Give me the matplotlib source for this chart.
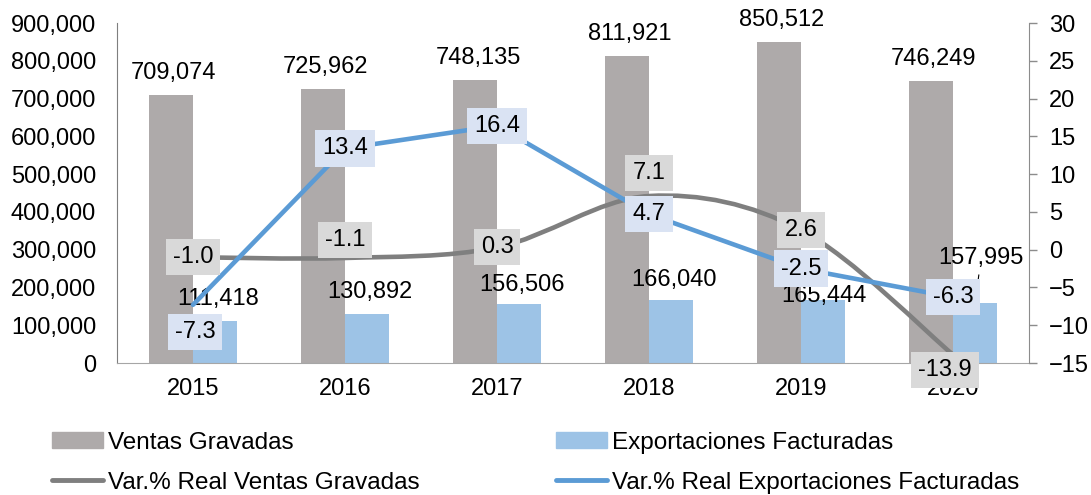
import numpy as np
import matplotlib.pyplot as plt
from matplotlib.path import Path
from matplotlib.patches import PathPatch, Patch
from matplotlib.lines import Line2D
from matplotlib.ticker import FuncFormatter

plt.rcParams['font.family'] = ['Liberation Sans', 'DejaVu Sans']
plt.rcParams['font.size'] = 17

years = ['2015', '2016', '2017', '2018', '2019', '2020']
ventas = [709074, 725962, 748135, 811921, 850512, 746249]
exportaciones = [111418, 130892, 156506, 166040, 165444, 157995]
var_ventas = [-1.0, -1.1, 0.3, 7.1, 2.6, -13.9]
var_export = [-7.3, 13.4, 16.4, 4.7, -2.5, -6.3]

c_bar_gray = '#AEAAAA'
c_bar_blue = '#9DC3E6'
c_line_gray = '#7F7F7F'
c_line_blue = '#5B9BD5'


def smooth_path(xs, ys):
    # Bezier smoothing in the style of spreadsheet "smoothed lines"
    pts = np.column_stack([xs, ys]).astype(float)
    n = len(pts)
    verts = [pts[0]]
    codes = [Path.MOVETO]
    for i in range(n - 1):
        p_prev = pts[i - 1] if i > 0 else pts[i]
        p_next2 = pts[i + 2] if i + 2 < n else pts[i + 1]
        c1 = pts[i] + (pts[i + 1] - p_prev) / 6
        c2 = pts[i + 1] - (p_next2 - pts[i]) / 6
        verts += [c1, c2, pts[i + 1]]
        codes += [Path.CURVE4] * 3
    return Path(verts, codes)


fig = plt.figure(figsize=(10.91, 4.95), dpi=100)
ax = fig.add_axes([117 / 1091, 132 / 495, 912 / 1091, 340 / 495])
ax2 = ax.twinx()

x = np.arange(len(years))
w = 0.29
bars_v = ax.bar(x - w / 2, ventas, w, color=c_bar_gray, zorder=2)
bars_e = ax.bar(x + w / 2, exportaciones, w, color=c_bar_blue, zorder=2)

ax.set_xlim(-0.5, len(years) - 0.5)
ax.set_ylim(0, 900000)
ax.set_yticks(np.arange(0, 900001, 100000))
ax.yaxis.set_major_formatter(FuncFormatter(lambda v, p: f'{int(v):,}'))
ax.set_xticks(x)
ax.set_xticklabels(years)
ax.tick_params(axis='x', length=0, pad=11)
ax.tick_params(axis='y', length=0, pad=15)

ax2.set_ylim(-15, 30)
ax2.set_yticks(np.arange(-15, 31, 5))
ax2.tick_params(axis='y', length=6, width=1, color='#8C8C8C', pad=8.5)

for a in (ax, ax2):
    a.spines['top'].set_visible(False)
ax.spines['right'].set_visible(False)
ax2.spines['left'].set_visible(False)
ax2.spines['bottom'].set_visible(False)
ax.spines['left'].set_color('#7F7F7F')
ax.spines['bottom'].set_color('#A6A6A6')
ax2.spines['right'].set_color('#8C8C8C')

# value labels above the bars
for b, v in zip(bars_v, ventas):
    ax.annotate(f'{v:,}', (b.get_x() + b.get_width() / 2, v),
                xytext=(3, 22), textcoords='offset pixels',
                ha='center', va='center', zorder=3)

export_offsets = [(3, 22), (3, 22), (3, 19), (3, 20), (1, 4), (6, 45)]
for b, v, off in zip(bars_e, exportaciones, export_offsets):
    arrow = None
    if off[1] > 30:
        arrow = dict(arrowstyle='-', color='black', lw=0.8, shrinkA=2, shrinkB=14)
    ax.annotate(f'{v:,}', (b.get_x() + b.get_width() / 2, v),
                xytext=off, textcoords='offset pixels',
                ha='center', va='center', zorder=3, arrowprops=arrow)

# growth lines on the secondary axis
ax2.add_patch(PathPatch(smooth_path(x, var_ventas), fill=False,
                        edgecolor=c_line_gray, lw=3.3, capstyle='round', zorder=4))
ax2.plot(x, var_export, color=c_line_blue, lw=3.3, solid_capstyle='round', zorder=5)

gray_offsets = [(0, 0), (0, 18), (0, 0), (0, 23), (0, 0), (-8, -15)]
for xi, v, off in zip(x, var_ventas, gray_offsets):
    ax2.annotate(f'{v:.1f}', (xi, v), xytext=off, textcoords='offset pixels',
                 ha='center', va='center', zorder=6,
                 bbox=dict(boxstyle='square,pad=0.3', fc='#D9D9D9', ec='none'))

blue_offsets = [(2, -27), (0, 0), (0, 0), (0, 0), (0, 0), (0, 0)]
for xi, v, off in zip(x, var_export, blue_offsets):
    ax2.annotate(f'{v:.1f}', (xi, v), xytext=off, textcoords='offset pixels',
                 ha='center', va='center', zorder=7,
                 bbox=dict(boxstyle='square,pad=0.3', fc='#DAE3F3', ec='none'))

handles = [
    Patch(color=c_bar_gray),
    Line2D([], [], color=c_line_gray, lw=3.5, solid_capstyle='round'),
    Patch(color=c_bar_blue),
    Line2D([], [], color=c_line_blue, lw=3.5, solid_capstyle='round'),
]
labels = ['Ventas Gravadas', 'Var.% Real Ventas Gravadas',
          'Exportaciones Facturadas', 'Var.% Real Exportaciones Facturadas']
fig.legend(handles, labels, loc='upper left', bbox_to_anchor=(52 / 1091, 0.128),
           ncol=2, frameon=False, borderaxespad=0, borderpad=0,
           prop={'size': 17.5}, handleheight=0.6,
           handlelength=2.1, handletextpad=0.2, columnspacing=5.6,
           labelspacing=0.74)

fig.savefig('out.png', dpi=100)
